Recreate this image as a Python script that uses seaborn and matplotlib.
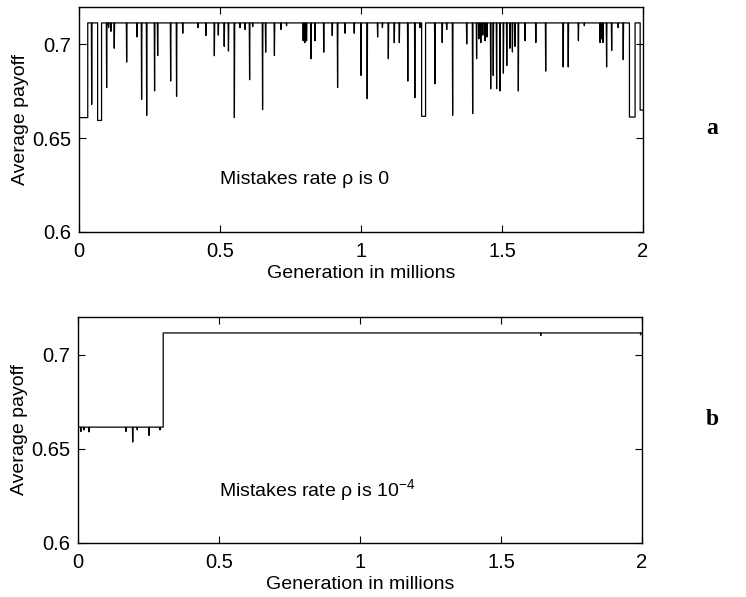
import numpy as np
import pandas as pd
import matplotlib
matplotlib.use("Agg")
import matplotlib.pyplot as plt
import seaborn as sns

# ------------------------------------------
# data (generation in millions, average payoff)
# ------------------------------------------
# panel a: piecewise levels (edges and level values)
a_edges = [0.0, 0.031, 0.066, 0.080, 1.215, 1.229, 1.952, 1.972, 1.990, 2.0]
a_levels = [0.6610, 0.7115, 0.6595, 0.7115, 0.6617, 0.7115, 0.6613, 0.7115, 0.6650]

# panel a: narrow downward spikes
a_dip_gen = [0.045, 0.098, 0.105, 0.113, 0.125, 0.169, 0.206, 0.222, 0.240, 0.268,
             0.279, 0.325, 0.346, 0.368, 0.422, 0.450, 0.480, 0.494, 0.515, 0.530,
             0.551, 0.571, 0.589, 0.605, 0.616, 0.651, 0.662, 0.693, 0.716, 0.736,
             0.795, 0.801, 0.807, 0.823, 0.837, 0.868, 0.898, 0.917, 0.943, 0.976,
             1.000, 1.022, 1.059, 1.076, 1.097, 1.118, 1.136, 1.166, 1.191, 1.209,
             1.262, 1.288, 1.304, 1.325, 1.375, 1.396, 1.410, 1.418, 1.425, 1.432,
             1.440, 1.447, 1.460, 1.469, 1.481, 1.493, 1.505, 1.517, 1.528, 1.537,
             1.546, 1.558, 1.582, 1.620, 1.655, 1.717, 1.735, 1.771, 1.792, 1.848,
             1.853, 1.858, 1.871, 1.889, 1.912, 1.930]
a_dip_val = [0.6680, 0.6770, 0.7090, 0.7070, 0.6980, 0.6906, 0.7040, 0.6707, 0.6622, 0.6752,
             0.6941, 0.6805, 0.6723, 0.7060, 0.7090, 0.7048, 0.6940, 0.7050, 0.6990, 0.6965,
             0.6610, 0.7090, 0.7080, 0.6812, 0.7095, 0.6652, 0.6959, 0.6941, 0.7080, 0.7100,
             0.7020, 0.7010, 0.7020, 0.6924, 0.7020, 0.6959, 0.7048, 0.6770, 0.7060, 0.7060,
             0.6835, 0.6711, 0.7040, 0.7090, 0.6924, 0.7010, 0.7010, 0.6805, 0.6716, 0.7090,
             0.6790, 0.7010, 0.7080, 0.6622, 0.7003, 0.6631, 0.6924, 0.7030, 0.7010, 0.7050,
             0.7020, 0.7040, 0.6764, 0.6835, 0.6764, 0.6752, 0.6847, 0.6888, 0.6980, 0.6960,
             0.6990, 0.6752, 0.7020, 0.7010, 0.6858, 0.6880, 0.6880, 0.7020, 0.7100, 0.7010,
             0.7030, 0.7010, 0.6880, 0.6968, 0.7090, 0.6919]

# panel b: step from the low to the high level
b_edges = [0.0, 0.302, 2.0]
b_levels = [0.6615, 0.7115]

b_dip_gen = [0.010, 0.021, 0.039, 0.170, 0.194, 0.210, 0.252, 0.291, 1.641, 1.995]
b_dip_val = [0.6592, 0.6600, 0.6590, 0.6592, 0.6536, 0.6600, 0.6571, 0.6600, 0.7101, 0.7105]

labels_a = "Mistakes rate \u03c1 is 0"
labels_b = "Mistakes rate \u03c1 is $10^{-4}$"


def build_series(edges, levels, dip_gen, dip_val, half_width=0.0012):
    # turn level segments + spikes into an ordered polyline
    xs, ys = [], []
    for i, lev in enumerate(levels):
        lo, hi = edges[i], edges[i + 1]
        xs.append(lo)
        ys.append(lev)
        for g, v in sorted(zip(dip_gen, dip_val)):
            if lo < g < hi:
                xs += [g - half_width, g, g + half_width]
                ys += [lev, v, lev]
        xs.append(hi)
        ys.append(lev)
    return pd.DataFrame({"generation": xs, "payoff": ys})


df_a = build_series(a_edges, a_levels, a_dip_gen, a_dip_val)
df_b = build_series(b_edges, b_levels, b_dip_gen, b_dip_val)

# ------------------------------------------
# style
# ------------------------------------------
sns.set_style("ticks")
plt.rcParams['font.family'] = ['Liberation Sans', 'DejaVu Sans']
plt.rcParams['mathtext.fontset'] = 'custom'
plt.rcParams['mathtext.rm'] = 'Liberation Sans'
plt.rcParams['mathtext.it'] = 'Liberation Sans:italic'
plt.rcParams['text.color'] = 'black'
plt.rcParams['axes.labelcolor'] = 'black'

fig = plt.figure(figsize=(7.46, 5.97), dpi=100)
ax_a = fig.add_axes([0.1059, 0.6114, 0.756, 0.3769])
ax_b = fig.add_axes([0.1046, 0.0905, 0.756, 0.3786])

for ax, df, txt, tag, tag_y in [(ax_a, df_a, labels_a, "a", 0.785),
                                 (ax_b, df_b, labels_b, "b", 0.298)]:
    sns.lineplot(data=df, x="generation", y="payoff", ax=ax, estimator=None,
                 sort=False, color="black", linewidth=0.9)
    ax.set_xlim(0, 2)
    ax.set_ylim(0.6, 0.72)
    ax.set_xticks([0, 0.5, 1, 1.5, 2])
    ax.set_xticklabels(["0", "0.5", "1", "1.5", "2"])
    ax.set_yticks([0.6, 0.65, 0.7])
    ax.set_yticklabels(["0.6", "0.65", "0.7"])
    ax.tick_params(direction="in", top=True, right=True, labelsize=14.5,
                   length=5, width=0.8, colors="black")
    ax.tick_params(axis="x", pad=7)
    ax.tick_params(axis="y", pad=5.5)
    for s in ax.spines.values():
        s.set_linewidth(1.0)
        s.set_color("black")
    ax.set_xlabel("Generation in millions", fontsize=14, labelpad=3)
    ax.set_ylabel("Average payoff", fontsize=14, labelpad=2)
    ax.text(0.5, 0.628, txt, fontsize=14, va="center", ha="left")
    fig.text(0.955, tag_y, tag, fontsize=17, fontweight="bold",
             family=["Liberation Serif", "DejaVu Serif"], ha="center", va="center")

fig.savefig("out.png", dpi=100)
